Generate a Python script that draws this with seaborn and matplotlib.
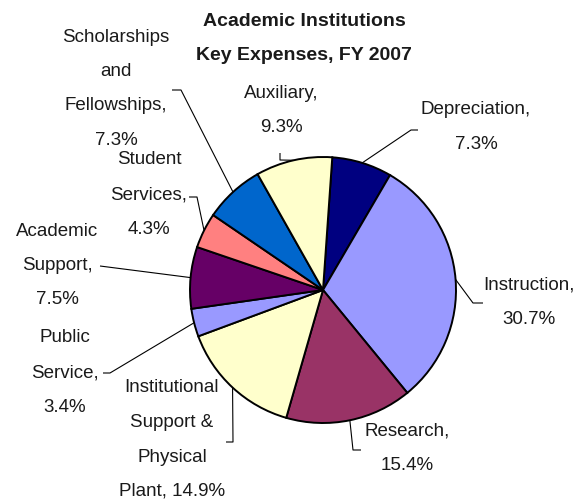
import numpy as np
import matplotlib
matplotlib.use("Agg")
import matplotlib.pyplot as plt
import seaborn as sns

# data, clockwise from the top of the pie
categories = ["Depreciation", "Instruction", "Research",
              "Institutional Support & Physical Plant", "Public Service",
              "Academic Support", "Student Services",
              "Scholarships and Fellowships", "Auxiliary"]
shares = [7.3, 30.7, 15.4, 14.9, 3.4, 7.5, 4.3, 7.3, 9.3]
slice_colors = ["#000080", "#9999FF", "#993366", "#FFFFCC", "#9999FF",
                "#660066", "#FF8080", "#0066CC", "#FFFFCC"]
# how each label wraps on the chart ({} gets the percentage)
label_lines = [
    ["Depreciation,", "{}"],
    ["Instruction,", "{}"],
    ["Research,", "{}"],
    ["Institutional", "Support &", "Physical", "Plant, {}"],
    ["Public", "Service,", "{}"],
    ["Academic", "Support,", "{}"],
    ["Student", "Services,", "{}"],
    ["Scholarships", "and", "Fellowships,", "{}"],
    ["Auxiliary,", "{}"],
]
title_lines = ["Academic Institutions", "Key Expenses, FY 2007"]

sns.set_theme(style="white")
plt.rcParams["font.family"] = ["Liberation Sans", "DejaVu Sans"]

W, H = 584, 504
cx, cy, r = 323, 290, 133       # pie centre / radius in pixels
line_step = 34.5

# label placement: centre x, first line y, leader elbow, leader end
label_pos = [(476, 110), (529, 285), (407, 431), (172, 388), (65, 338),
             (57, 231), (149, 160), (116, 37), (281, 93)]
leader_pts = [
    [(411, 130), (418, 130)],
    [(473, 303), (483, 303)],
    [(353, 450), (361, 450)],
    [(233, 442), (226, 442)],
    [(110, 373), (103, 373)],
    [(100, 266), (100, 266)],
    [(197, 197), (189, 197)],
    [(181, 90), (172, 90)],
    [(280, 160), (280, 153)],
]

fig = plt.figure(figsize=(W / 100, H / 100), dpi=100)
ax = fig.add_axes([0, 0, 1, 1])

# y axis runs downward, so the angles are mirrored
wedges, _ = ax.pie(shares, colors=slice_colors, startangle=-86, counterclock=True,
                   center=(cx, cy), radius=r,
                   wedgeprops=dict(edgecolor="black", linewidth=1.4))
ax.set_xlim(0, W)
ax.set_ylim(H, 0)
ax.set_aspect("equal")
ax.axis("off")

for w, lines, val, (lx, ly), pts in zip(wedges, label_lines, shares, label_pos, leader_pts):
    mid = np.deg2rad((w.theta1 + w.theta2) / 2)
    ax_, ay_ = cx + r * np.cos(mid), cy + r * np.sin(mid)
    xs = [ax_] + [p[0] for p in pts]
    ys = [ay_] + [p[1] for p in pts]
    ax.plot(xs, ys, color="black", linewidth=0.8, solid_capstyle="butt")
    for i, t in enumerate(lines):
        ax.text(lx, ly + i * line_step, t.format(f"{val}%"), ha="center", va="center",
                fontsize=13.5, color="#1a1a1a")

for i, t in enumerate(title_lines):
    ax.text(304, 21 + i * 35, t, ha="center", va="center", fontsize=14,
            fontweight="bold", color="#1a1a1a")

fig.savefig("out.png", dpi=100, facecolor="white")
